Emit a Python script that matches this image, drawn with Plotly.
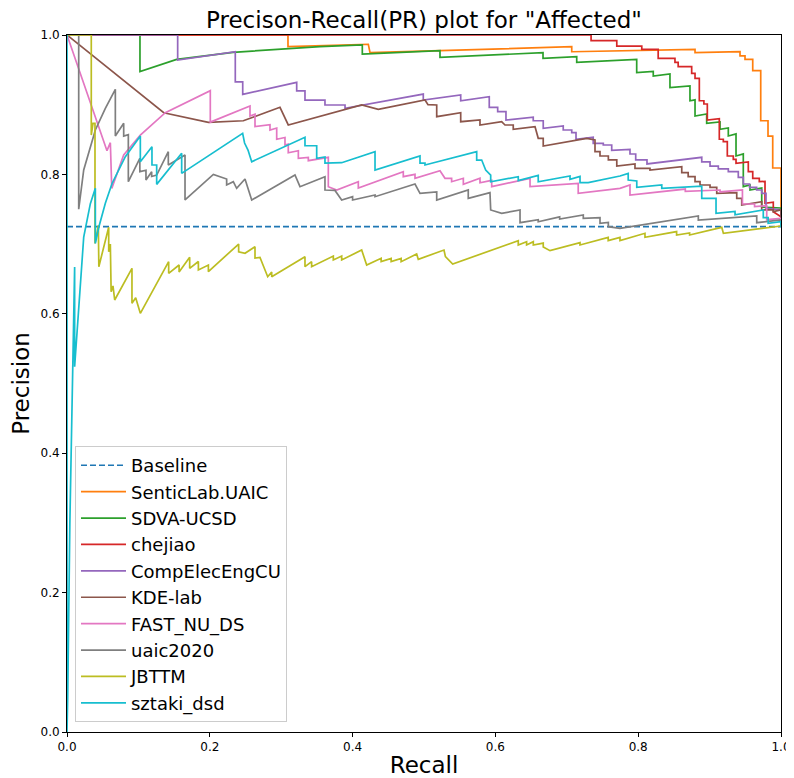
import plotly.graph_objects as go

# ---------------- data ----------------
baseline_recall = [0.0, 1.0]
baseline_precision = [0.725, 0.725]

senticlab_recall = [0, 0.3095, 0.3095, 0.422, 0.4244, 0.7069, 0.7069, 0.8796, 0.8796, 0.9426, 0.9426,
                    0.9496, 0.9496, 0.9604, 0.9604, 0.9716, 0.9716, 0.9818, 0.9818, 0.9884, 0.9884, 1.0, 1.0]
senticlab_precision = [1.0, 1.0, 0.9832, 0.9867, 0.9746, 0.9832, 0.976, 0.9795, 0.9746, 0.976, 0.970,
                       0.970, 0.965, 0.965, 0.9488, 0.9488, 0.877, 0.877, 0.855, 0.855, 0.8092, 0.8092, 0.7245]

sdva_recall = [0, 0.1022, 0.1022, 0.1536, 0.2325, 0.3543, 0.4136, 0.4136, 0.5224, 0.5224, 0.6667, 0.6667,
               0.7139, 0.7139, 0.7979, 0.7979, 0.8211, 0.8211, 0.8445, 0.8445, 0.8725, 0.8725, 0.8796, 0.8796,
               0.8959, 0.8959, 0.9146, 0.9146, 0.9262, 0.9262, 0.9370, 0.9370, 0.9472, 0.9472, 0.9566, 0.9566,
               0.973, 0.973, 1.0, 1.0]
sdva_precision = [1.0, 1.0, 0.9474, 0.9651, 0.9752, 0.9832, 0.9857, 0.9727, 0.9775, 0.968, 0.9746, 0.9666,
                  0.9689, 0.9608, 0.9651, 0.9459, 0.9476, 0.9412, 0.944, 0.9244, 0.9268, 0.9057, 0.907, 0.8838,
                  0.8867, 0.8733, 0.8752, 0.8647, 0.8666, 0.8551, 0.858, 0.8264, 0.8293, 0.7824, 0.7848, 0.7776,
                  0.7805, 0.7532, 0.7518, 0.7245]

chejiao_recall = [0, 0.734, 0.734, 0.770, 0.770, 0.805, 0.805, 0.828, 0.828, 0.8515, 0.8515, 0.856, 0.856,
                  0.8749, 0.8749, 0.8796, 0.8796, 0.8856, 0.8856, 0.892, 0.892, 0.8968, 0.8968, 0.9136, 0.9136,
                  0.9192, 0.9192, 0.9248, 0.9248, 0.9332, 0.9332, 0.937, 0.937, 0.9542, 0.9542, 0.9604, 0.9604,
                  0.9696, 0.9696, 0.9776, 0.9776, 0.9892, 0.9892, 1.0, 1.0]
chejiao_precision = [1.0, 1.0, 0.9918, 0.9918, 0.984, 0.984, 0.9795, 0.9795, 0.9666, 0.9666, 0.9608, 0.9608,
                     0.9545, 0.9545, 0.945, 0.945, 0.9379, 0.9379, 0.9057, 0.9057, 0.901, 0.901, 0.878, 0.880,
                     0.8504, 0.8504, 0.847, 0.847, 0.8264, 0.8264, 0.8217, 0.8217, 0.816, 0.818, 0.8039, 0.8039,
                     0.7944, 0.7944, 0.7895, 0.790, 0.7585, 0.760, 0.7465, 0.7393, 0.7245]

compelec_recall = [0, 0.155, 0.155, 0.2357, 0.2357, 0.2461, 0.2461, 0.3217, 0.3217, 0.3333, 0.3333, 0.3613,
                   0.3613, 0.3894, 0.3894, 0.499, 0.499, 0.5514, 0.5514, 0.5914, 0.5914, 0.6032, 0.6032, 0.6148,
                   0.6148, 0.653, 0.653, 0.667, 0.667, 0.695, 0.695, 0.7069, 0.7069, 0.7129, 0.7129, 0.737, 0.737,
                   0.7511, 0.7511, 0.7629, 0.7629, 0.7885, 0.7885, 0.7965, 0.7965, 0.8123, 0.8123, 0.889, 0.889,
                   0.9006, 0.9006, 0.9122, 0.9122, 0.9262, 0.9262, 0.9402, 0.9402, 0.9472, 0.9472, 0.956, 0.956,
                   0.9659, 0.9659, 0.973, 0.973, 0.979, 0.979, 1.0, 1.0]
compelec_precision = [1.0, 1.0, 0.964, 0.976, 0.9328, 0.9328, 0.9148, 0.932, 0.9197, 0.9197, 0.9067, 0.9067,
                      0.8996, 0.8996, 0.8948, 0.9153, 0.9067, 0.9139, 0.9057, 0.9115, 0.8963, 0.8963, 0.890, 0.890,
                      0.878, 0.882, 0.877, 0.877, 0.8661, 0.8694, 0.8637, 0.8637, 0.860, 0.860, 0.8504, 0.8532,
                      0.8446, 0.8446, 0.8422, 0.8422, 0.8345, 0.836, 0.8293, 0.8293, 0.8207, 0.8207, 0.815, 0.8245,
                      0.818, 0.818, 0.812, 0.812, 0.808, 0.808, 0.8039, 0.8039, 0.7958, 0.7958, 0.7862, 0.7862,
                      0.7815, 0.7815, 0.7776, 0.7776, 0.7729, 0.7729, 0.7513, 0.749, 0.7245]

kde_recall = [0, 0.1355, 0.198, 0.247, 0.2983, 0.3099, 0.4127, 0.436, 0.5014, 0.5056, 0.5178, 0.5178, 0.5514,
              0.5514, 0.5784, 0.5784, 0.6088, 0.6134, 0.625, 0.625, 0.6555, 0.660, 0.667, 0.667, 0.7278, 0.7395,
              0.7395, 0.7465, 0.7465, 0.7582, 0.7582, 0.770, 0.770, 0.7955, 0.7955, 0.8165, 0.8165, 0.861, 0.861,
              0.870, 0.870, 0.8796, 0.8796, 0.8866, 0.8866, 0.9006, 0.9006, 0.91, 0.91, 0.931, 0.938, 0.938, 0.945,
              0.945, 0.973, 0.973, 0.9892, 0.9892, 1.0, 1.0]
kde_precision = [1.0, 0.8885, 0.8747, 0.877, 0.8963, 0.8709, 0.8996, 0.8934, 0.9067, 0.900, 0.8996, 0.8828,
                 0.8885, 0.8756, 0.8782, 0.8709, 0.8756, 0.8709, 0.8709, 0.8647, 0.8685, 0.8518, 0.8518, 0.8407,
                 0.8518, 0.8494, 0.8326, 0.8326, 0.8264, 0.8264, 0.8207, 0.8207, 0.812, 0.815, 0.8087, 0.8087,
                 0.8063, 0.811, 0.8025, 0.8025, 0.7967, 0.7967, 0.7895, 0.7895, 0.7848, 0.7848, 0.7815, 0.7815,
                 0.7729, 0.7738, 0.7738, 0.7657, 0.7657, 0.7561, 0.7608, 0.749, 0.749, 0.7465, 0.749, 0.7245]

fast_recall = [0, 0.056, 0.0607, 0.0627, 0.0794, 0.1027, 0.1377, 0.2007, 0.2007, 0.2563, 0.2563, 0.2633,
               0.2633, 0.2843, 0.2843, 0.2937, 0.2937, 0.3053, 0.3053, 0.3099, 0.3099, 0.324, 0.324, 0.338, 0.338,
               0.366, 0.366, 0.3777, 0.408, 0.408, 0.471, 0.471, 0.4874, 0.4874, 0.5224, 0.5294, 0.5387, 0.5387,
               0.5551, 0.5551, 0.5784, 0.5784, 0.5948, 0.5948, 0.6485, 0.6485, 0.716, 0.716, 0.7745, 0.7885,
               0.7885, 0.866, 0.866, 0.9146, 0.9146, 0.946, 0.946, 0.963, 0.963, 0.98, 0.98, 1.0, 1.0]
fast_precision = [1.0, 0.834, 0.8455, 0.780, 0.8278, 0.8565, 0.8885, 0.9201, 0.875, 0.8981, 0.8838, 0.8865,
                  0.8685, 0.8712, 0.8637, 0.8665, 0.8504, 0.853, 0.8422, 0.8435, 0.8311, 0.834, 0.823, 0.8245,
                  0.8197, 0.8245, 0.7824, 0.7776, 0.7895, 0.7805, 0.8039, 0.7967, 0.800, 0.7944, 0.8053, 0.7944,
                  0.7944, 0.7895, 0.7944, 0.7857, 0.7944, 0.788, 0.7915, 0.7824, 0.7944, 0.7824, 0.7872, 0.7729,
                  0.780, 0.7848, 0.7704, 0.779, 0.7757, 0.7776, 0.7748, 0.7776, 0.7575, 0.7575, 0.7537, 0.755,
                  0.735, 0.737, 0.7245]

uaic_recall = [0, 0.0164, 0.0164, 0.0234, 0.0397, 0.0537, 0.0677, 0.0677, 0.0794, 0.0794, 0.0859, 0.0859,
               0.102, 0.102, 0.1106, 0.1106, 0.1186, 0.1186, 0.1256, 0.1419, 0.1419, 0.1653, 0.1653, 0.205, 0.2236,
               0.2236, 0.2329, 0.2376, 0.2493, 0.2587, 0.3193, 0.3263, 0.3613, 0.3613, 0.3753, 0.3847, 0.40, 0.40,
               0.4314, 0.4314, 0.4874, 0.4944, 0.5178, 0.5178, 0.562, 0.562, 0.5924, 0.5934, 0.6088, 0.6345, 0.6345,
               0.66, 0.66, 0.69, 0.69, 0.7231, 0.7231, 0.7465, 0.7465, 0.7582, 0.7582, 0.7745, 0.8842, 0.8842, 0.966,
               0.966, 1.0, 1.0]
uaic_precision = [1.0, 1.0, 0.75, 0.8063, 0.8637, 0.8948, 0.9221, 0.855, 0.8733, 0.855, 0.857, 0.7895, 0.823,
                  0.8039, 0.806, 0.7919, 0.8039, 0.797, 0.799, 0.8326, 0.8135, 0.8278, 0.7633, 0.800, 0.7934, 0.7848,
                  0.7895, 0.780, 0.7934, 0.7633, 0.7991, 0.7824, 0.7967, 0.7776, 0.777, 0.7633, 0.768, 0.7633,
                  0.7705, 0.768, 0.7862, 0.7729, 0.775, 0.7633, 0.7776, 0.7657, 0.7738, 0.749, 0.7442, 0.749, 0.7307,
                  0.735, 0.732, 0.739, 0.736, 0.7418, 0.737, 0.738, 0.7298, 0.731, 0.725, 0.7226, 0.7403, 0.7346,
                  0.7403, 0.7307, 0.7346, 0.7245]

jbttm_recall = [0, 0.034, 0.034, 0.0364, 0.0392, 0.0392, 0.0439, 0.0446, 0.0584, 0.0584, 0.0607, 0.0618,
                0.0644, 0.0668, 0.091, 0.091, 0.0962, 0.1027, 0.1424, 0.1424, 0.157, 0.157, 0.1718, 0.1718, 0.184,
                0.184, 0.198, 0.198, 0.2404, 0.2404, 0.2493, 0.2633, 0.2633, 0.2703, 0.2811, 0.2867, 0.2867,
                0.3333, 0.3333, 0.3426, 0.3426, 0.373, 0.373, 0.3847, 0.3847, 0.4127, 0.4197, 0.44, 0.44, 0.454,
                0.454, 0.468, 0.468, 0.4897, 0.492, 0.528, 0.53, 0.5402, 0.632, 0.632, 0.6437, 0.6437, 0.6531,
                0.6531, 0.667, 0.667, 0.6765, 0.7185, 0.7185, 0.758, 0.758, 0.7745, 0.7745, 0.8095, 0.8095, 0.8538,
                0.8538, 0.872, 0.872, 0.917, 0.9193, 1.0]
jbttm_precision = [1.0, 1.0, 0.8565, 0.8733, 0.8733, 0.701, 0.727, 0.6676, 0.7241, 0.689, 0.700, 0.6317,
                   0.640, 0.6198, 0.6652, 0.615, 0.623, 0.6007, 0.6748, 0.6581, 0.670, 0.660, 0.681, 0.6652, 0.675,
                   0.663, 0.670, 0.6605, 0.7001, 0.689, 0.6868, 0.6963, 0.680, 0.681, 0.6532, 0.660, 0.6532, 0.6819,
                   0.6676, 0.6748, 0.6676, 0.6829, 0.6772, 0.6829, 0.6772, 0.6915, 0.670, 0.6796, 0.6748, 0.6796,
                   0.6748, 0.6796, 0.6748, 0.6858, 0.6782, 0.6915, 0.682, 0.6714, 0.7049, 0.6987, 0.7034, 0.6987,
                   0.7034, 0.6987, 0.7015, 0.696, 0.6906, 0.702, 0.6987, 0.7097, 0.705, 0.7097, 0.705, 0.7155, 0.7097,
                   0.7179, 0.7131, 0.716, 0.7131, 0.7241, 0.7155, 0.726]

sztaki_recall = [0, 0.0, 0.001, 0.004, 0.007, 0.0107, 0.0107, 0.015, 0.0234, 0.0327, 0.0397, 0.0397, 0.0447,
                 0.0537, 0.0631, 0.0817, 0.1027, 0.1027, 0.119, 0.119, 0.1256, 0.1256, 0.1606, 0.1606, 0.2025,
                 0.246, 0.2487, 0.2535, 0.2587, 0.3287, 0.3333, 0.3333, 0.3497, 0.3497, 0.3613, 0.3613, 0.3847,
                 0.3847, 0.4314, 0.4314, 0.4944, 0.4944, 0.5014, 0.5014, 0.5738, 0.5738, 0.5808, 0.5864, 0.5934,
                 0.5934, 0.632, 0.632, 0.660, 0.660, 0.7045, 0.7045, 0.7185, 0.7185, 0.730, 0.730, 0.7745, 0.786,
                 0.786, 0.798, 0.798, 0.833, 0.833, 0.889, 0.889, 0.909, 0.909, 0.9356, 0.9356, 0.9752, 0.9752, 0.982,
                 0.982, 1.0, 1.0]
sztaki_precision = [1.0, 0.0, 0.05, 0.30, 0.45, 0.667, 0.524, 0.585, 0.71, 0.758, 0.78, 0.701, 0.725, 0.7585,
                    0.787, 0.8254, 0.855, 0.8182, 0.8397, 0.8135, 0.8135, 0.7857, 0.8303, 0.8015, 0.830, 0.859,
                    0.845, 0.835, 0.8182, 0.8518, 0.8532, 0.8411, 0.8411, 0.823, 0.825, 0.8163, 0.8168, 0.8168,
                    0.8326, 0.8063, 0.8264, 0.8163, 0.8163, 0.8135, 0.8326, 0.8206, 0.8206, 0.8063, 0.7990, 0.7895,
                    0.7967, 0.7910, 0.7987, 0.7895, 0.7977, 0.7930, 0.7970, 0.7881, 0.7881, 0.7881, 0.7977, 0.8015,
                    0.7920, 0.7905, 0.7815, 0.7850, 0.7800, 0.7830, 0.7657, 0.7657, 0.7442, 0.7470, 0.7420, 0.749,
                    0.7380, 0.7380, 0.7298, 0.7321, 0.7245]

series_names = ["SenticLab.UAIC", "SDVA-UCSD", "chejiao", "CompElecEngCU", "KDE-lab",
                "FAST_NU_DS", "uaic2020", "JBTTM", "sztaki_dsd"]
series_recall = [senticlab_recall, sdva_recall, chejiao_recall, compelec_recall, kde_recall,
                 fast_recall, uaic_recall, jbttm_recall, sztaki_recall]
series_precision = [senticlab_precision, sdva_precision, chejiao_precision, compelec_precision, kde_precision,
                    fast_precision, uaic_precision, jbttm_precision, sztaki_precision]

axis_ticks = [0.0, 0.2, 0.4, 0.6, 0.8, 1.0]
tick_labels = ["0.0", "0.2", "0.4", "0.6", "0.8", "1.0"]

# ---------------- styling ----------------
colors = ['#ff7f0e', '#2ca02c', '#d62728', '#9467bd', '#8c564b',
          '#e377c2', '#7f7f7f', '#bcbd22', '#17becf']
FONT = "DejaVu Sans"
LW = 1.7

fig = go.Figure()
fig.add_trace(go.Scatter(x=baseline_recall, y=baseline_precision, mode="lines", name="Baseline",
                         legendgroup="g0",
                         line=dict(color="#1f77b4", width=LW, dash="6px,3px")))
for i, (n, r, p) in enumerate(zip(series_names, series_recall, series_precision)):
    fig.add_trace(go.Scatter(x=r, y=p, mode="lines", name=n, legendgroup=f"g{i+1}",
                             line=dict(color=colors[i], width=LW)))

axis_common = dict(range=[0, 1], tickvals=axis_ticks, ticktext=tick_labels, automargin=False,
                   showgrid=False, zeroline=False, showline=True, linecolor="black", linewidth=1,
                   mirror=True, ticks="outside", ticklen=4, tickwidth=1, tickcolor="black",
                   tickfont=dict(family=FONT, size=12, color="black"))

# the page body has an 8px margin, so the figure is 8px smaller and offset accordingly
fig.update_layout(
    width=786, height=770,
    margin=dict(l=59, r=13, t=27, b=46, pad=0, autoexpand=False),
    paper_bgcolor="white", plot_bgcolor="white",
    font=dict(family=FONT, color="black"),
    title=dict(text='Precison-Recall(PR) plot for "Affected"', x=0.5, xref="paper", xanchor="center",
               y=0.985, yref="container", yanchor="middle",
               font=dict(family=FONT, size=23, color="black")),
    xaxis=dict(title=dict(text="Recall", font=dict(family=FONT, size=23), standoff=6), **axis_common),
    yaxis=dict(title=dict(text="Precision", font=dict(family=FONT, size=23), standoff=10), **axis_common),
    legend=dict(x=0.0112, y=0.0143, xanchor="left", yanchor="bottom",
                bgcolor="rgba(255,255,255,0.85)", bordercolor="#cccccc", borderwidth=1,
                font=dict(family=FONT, size=18, color="black"), tracegroupgap=0,
                itemwidth=45, traceorder="normal"),
    showlegend=True,
)

fig.write_html("out.html")
